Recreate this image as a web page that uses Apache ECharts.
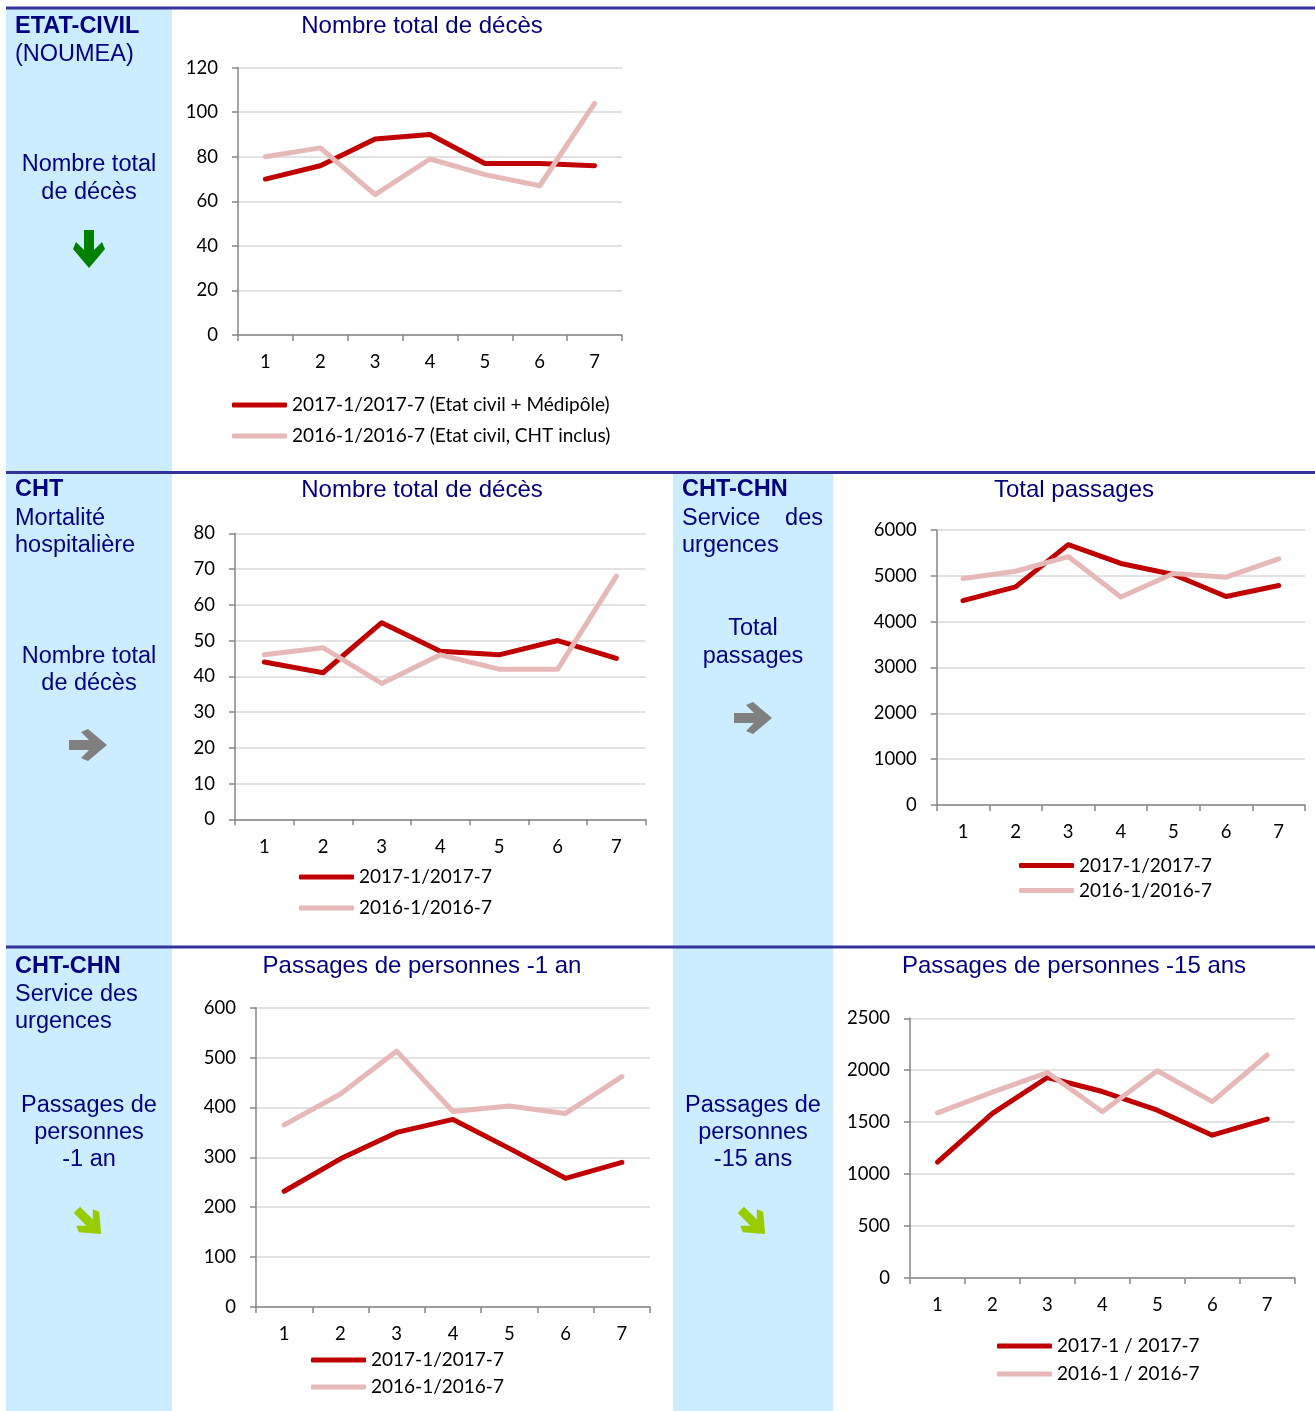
<!DOCTYPE html>
<html><head><meta charset="utf-8">
<script src="https://cdn.jsdelivr.net/npm/echarts@6/dist/echarts.min.js"></script>
<style>html,body{margin:0;padding:0;background:#fff}#c{width:1315px;height:1411px}</style>
</head><body><div id="c"></div>
<script>
// ---- data ----
const months = ['1', '2', '3', '4', '5', '6', '7'];

const decesNoumea2017 = [70, 76, 88, 90, 77, 77, 76];
const decesNoumea2016 = [80, 84, 63, 79, 72, 67, 104];

const decesCHT2017 = [44, 41, 55, 47, 46, 50, 45];
const decesCHT2016 = [46, 48, 38, 46, 42, 42, 68];

const passages2017 = [4460, 4760, 5680, 5270, 5030, 4550, 4790];
const passages2016 = [4940, 5100, 5420, 4540, 5050, 4970, 5370];

const moins1an2017 = [232, 297, 350, 376, 318, 258, 290];
const moins1an2016 = [365, 427, 513, 392, 403, 388, 462];

const moins15ans2017 = [1115, 1585, 1930, 1795, 1615, 1375, 1530];
const moins15ans2016 = [1590, 1790, 1978, 1600, 1995, 1698, 2147];

const names1 = ['2017-1/2017-7 (Etat civil + Médipôle)', '2016-1/2016-7 (Etat civil, CHT inclus)'];
const names2 = ['2017-1/2017-7', '2016-1/2016-7'];
const names5 = ['2017-1 / 2017-7', '2016-1 / 2016-7'];

const RED = '#C00000', PINK = '#E6B9B8', NAVY = '#000080', SIDE = '#CCECFF', RULE = '#333399';
const AX = '#868686';
const LBL = 'Lato, "Open Sans", sans-serif';
const ARIAL = '"Liberation Sans", Arial, sans-serif';

const charts = [
  { grid: { left: 238, top: 67.7, width: 384, height: 267.3 }, max: 120, interval: 20,
    s: [decesNoumea2017, decesNoumea2016], names: names1,
    legend: { left: 232, top: 395.5, itemGap: 12 } },
  { grid: { left: 235, top: 533.3, width: 410.7, height: 286 }, max: 80, interval: 10,
    s: [decesCHT2017, decesCHT2016], names: names2,
    legend: { left: 299, top: 867.5, itemGap: 12 } },
  { grid: { left: 936.7, top: 530, width: 368.3, height: 275 }, max: 6000, interval: 1000,
    s: [passages2017, passages2016], names: names2,
    legend: { left: 1019, top: 856, itemGap: 6 } },
  { grid: { left: 256, top: 1007.7, width: 394, height: 299.3 }, max: 600, interval: 100,
    s: [moins1an2017, moins1an2016], names: names2,
    legend: { left: 311, top: 1350.5, itemGap: 8 } },
  { grid: { left: 910, top: 1018.3, width: 384.7, height: 259.7 }, max: 2500, interval: 500,
    s: [moins15ans2017, moins15ans2016], names: names5,
    legend: { left: 997, top: 1336.5, itemGap: 9 } }
];

const grids = [], xAxes = [], yAxes = [], series = [], legends = [];
charts.forEach((c, i) => {
  grids.push(Object.assign({ outerBoundsMode: 'none', containLabel: false }, c.grid));
  xAxes.push({
    type: 'category', gridIndex: i, data: months, boundaryGap: true,
    axisLine: { lineStyle: { color: AX, width: 1.5 } },
    axisTick: { show: true, length: 6, lineStyle: { color: AX, width: 1.5 } },
    axisLabel: { color: '#000', fontSize: 18.5, fontFamily: LBL, margin: 18 },
    splitLine: { show: false }
  });
  yAxes.push({
    type: 'value', gridIndex: i, min: 0, max: c.max, interval: c.interval,
    axisLine: { show: true, lineStyle: { color: AX, width: 1.5 } },
    axisTick: { show: true, length: 6, lineStyle: { color: AX, width: 1.5 } },
    axisLabel: { color: '#000', fontSize: 18.5, fontFamily: LBL, margin: 20,
      formatter: v => String(v) },
    splitLine: { show: true, lineStyle: { color: '#D9D9D9', width: 1.5 } }
  });
  [RED, PINK].forEach((col, k) => {
    series.push({
      type: 'line', name: c.names[k], xAxisIndex: i, yAxisIndex: i,
      data: c.s[k], symbol: 'none', smooth: false, color: col,
      itemStyle: { color: col },
      lineStyle: { color: col, width: 5, cap: 'round', join: 'round' },
      emphasis: { disabled: true }, animation: false
    });
  });
  legends.push({
    data: c.names, orient: 'vertical', left: c.legend.left, top: c.legend.top,
    itemGap: c.legend.itemGap, padding: 0, itemWidth: 55, itemHeight: 5, icon: 'roundRect',
    selectedMode: false,
    textStyle: { color: '#000', fontSize: 19, fontFamily: LBL }
  });
});

// ---- decorations ----
function txt(x, y, s, opts) {
  return {
    type: 'text', x: x, y: y, z: 5,
    style: Object.assign({ text: s, fill: NAVY, font: '23.5px ' + ARIAL, textAlign: 'left', textVerticalAlign: 'middle' }, opts || {})
  };
}
function bold(x, y, s) { return txt(x, y, s, { font: 'bold 23.5px ' + ARIAL }); }
function ctr(x, y, s) { return txt(x, y, s, { textAlign: 'center' }); }
function title(x, y, s) { return txt(x, y, s, { textAlign: 'center', font: '24px ' + ARIAL }); }

const arrowPts = [[-19, -5], [1, -5], [-7, -13], [0, -16], [19, 0], [0, 16], [-7, 13], [1, 5], [-19, 5]];
function arrow(x, y, rot, color, sc) {
  return { type: 'polygon', x: x, y: y, rotation: rot, scaleX: sc || 1, scaleY: sc || 1, z: 5,
    shape: { points: arrowPts }, style: { fill: color } };
}

const D = 2; // vertical nudge for sidebar text
const elements = [
  // sidebars
  { type: 'rect', z: 0, shape: { x: 6, y: 8, width: 166, height: 1403 }, style: { fill: SIDE } },
  { type: 'rect', z: 0, shape: { x: 673, y: 473, width: 160, height: 938 }, style: { fill: SIDE } },
  // separators
  { type: 'rect', z: 1, shape: { x: 6, y: 6.5, width: 1309, height: 3 }, style: { fill: RULE } },
  { type: 'rect', z: 1, shape: { x: 6, y: 471, width: 1309, height: 3 }, style: { fill: RULE } },
  { type: 'rect', z: 1, shape: { x: 6, y: 945.5, width: 657, height: 3 }, style: { fill: RULE } },
  { type: 'rect', z: 1, shape: { x: 663, y: 945.5, width: 652, height: 3 }, style: { fill: RULE } },

  // row 1
  bold(15, 24.5 + D, 'ETAT-CIVIL'),
  txt(15, 53 + D, '(NOUMEA)'),
  ctr(89, 163 + D, 'Nombre total'),
  ctr(89, 191 + D, 'de décès'),
  arrow(89, 249, -Math.PI / 2, '#008000'),
  title(422, 26.5, 'Nombre total de décès'),

  // row 2 left
  bold(15, 488 + D, 'CHT'),
  txt(15, 517 + D, 'Mortalité'),
  txt(15, 544 + D, 'hospitalière'),
  ctr(89, 655 + D, 'Nombre total'),
  ctr(89, 682 + D, 'de décès'),
  arrow(88, 745, 0, '#808080'),
  title(422, 490.5, 'Nombre total de décès'),

  // row 2 right
  bold(682, 488 + D, 'CHT-CHN'),
  txt(682, 517 + D, 'Service'),
  txt(823, 517 + D, 'des', { textAlign: 'right' }),
  txt(682, 544 + D, 'urgences'),
  ctr(753, 627 + D, 'Total'),
  ctr(753, 655 + D, 'passages'),
  arrow(753, 718, 0, '#808080'),
  title(1074, 490.5, 'Total passages'),

  // row 3 left
  bold(15, 964.5 + D, 'CHT-CHN'),
  txt(15, 993 + D, 'Service des'),
  txt(15, 1020 + D, 'urgences'),
  ctr(89, 1104 + D, 'Passages de'),
  ctr(89, 1131 + D, 'personnes'),
  ctr(89, 1158 + D, '-1 an'),
  arrow(89, 1222, -Math.PI / 4, '#99CC00', 0.9),
  title(422, 966.5, 'Passages de personnes -1 an'),

  // row 3 right
  ctr(753, 1104 + D, 'Passages de'),
  ctr(753, 1131 + D, 'personnes'),
  ctr(753, 1158 + D, '-15 ans'),
  arrow(753, 1222, -Math.PI / 4, '#99CC00', 0.9),
  title(1074, 966.5, 'Passages de personnes -15 ans')
];

const chart = echarts.init(document.getElementById('c'), null, { renderer: 'canvas' });
chart.setOption({
  animation: false,
  backgroundColor: '#fff',
  grid: grids, xAxis: xAxes, yAxis: yAxes, series: series, legend: legends,
  graphic: { elements: elements }
});
</script></body></html>
